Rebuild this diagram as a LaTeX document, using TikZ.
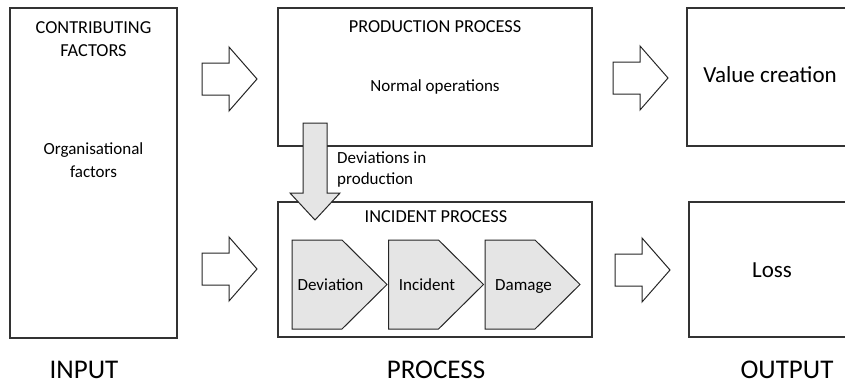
\documentclass[tikz,border=0pt]{standalone}
\usepackage{fontspec}
\setmainfont{Carlito}
\usetikzlibrary{calc}
\tikzset{
	box/.style={draw=black!80, line width=1.1pt},
	barrow/.style={draw=black!85, line width=1pt, fill=white, line join=miter},
	stage/.style={draw=black!85, line width=1pt, fill=black!10},
	txt/.style={font=\fontsize{17}{23}\selectfont, inner sep=0pt, align=center},
	capstxt/.style={font=\fontsize{18.3}{23.3}\selectfont, inner sep=0pt, align=center},
	bigtxt/.style={font=\fontsize{23}{26}\selectfont, inner sep=0pt},
	axistxt/.style={font=\fontsize{27}{30}\selectfont, inner sep=0pt}
}
% hollow block arrow, tail centre at (#1,#2)
\def\blockarrow(#1,#2){\draw[barrow] (#1,#2-16) -- ++(27,0) -- ++(0,-16) -- ++(28,32) -- ++(-28,32) -- ++(0,-16) -- ++(-27,0) -- cycle;}
% grey stage pentagon, left edge at #2
\def\stagebox(#1,#2)#3{\draw[stage] (#2,240) -- ++(50,0) -- ++(45,44.5) -- ++(-45,44.5) -- ++(-50,0) -- cycle;
	\node[txt, anchor=base] (#1) at (#2+38.5,290) {#3};}

\begin{document}
\begin{tikzpicture}[x=1pt, y=-1pt]
	%%%%% START %%%%%
	\clip (0,0) rectangle (845,386);
	
	% input
	\draw[box] (10,8) rectangle (177,338);
	\node[capstxt, anchor=north] (contrib) at (93.5,21.5) {CONTRIBUTING\\FACTORS};
	\node[txt, anchor=north] (orgfac) at (93.5,142) {Organisational\\factors};
	
	\blockarrow(202,79)
	\blockarrow(202,269)
	
	% process
	\draw[box] (278,8) rectangle (592,146);
	\node[capstxt, anchor=base] (prodproc) at (435,32) {PRODUCTION PROCESS};
	\node[txt, anchor=base] (normops) at (435,91.5) {Normal operations};
	
	\draw[box] (278,202) rectangle (592,337);
	\node[capstxt, anchor=base] (incproc) at (436,222) {INCIDENT PROCESS};
	
	\draw[stage] (303,123) -- (327,123) -- (327,193) -- (340,193) -- (315,220) -- (290,193) -- (303,193) -- cycle;
	\node[txt, anchor=north west, align=left, font=\fontsize{17}{21}\selectfont] (devin) at (337,152) {Deviations in\\production};
	
	\stagebox(dev,292){Deviation}
	\stagebox(inc,388.5){Incident}
	\stagebox(dam,485){Damage}
	
	\blockarrow(613,78)
	\blockarrow(615,270)
	
	% output
	\draw[box] (687,8) rectangle (860,146);
	\node[bigtxt, anchor=base] (value) at (770,82) {Value creation};
	\draw[box] (689,202) rectangle (860,337);
	\node[bigtxt, anchor=base] (loss) at (772,277) {Loss};
	
	\node[axistxt, anchor=base] (input) at (84,378) {INPUT};
	\node[axistxt, anchor=base] (process) at (436,378) {PROCESS};
	\node[axistxt, anchor=base] (output) at (787,378) {OUTPUT};
	%%%%% END %%%%%
\end{tikzpicture}
\end{document}
